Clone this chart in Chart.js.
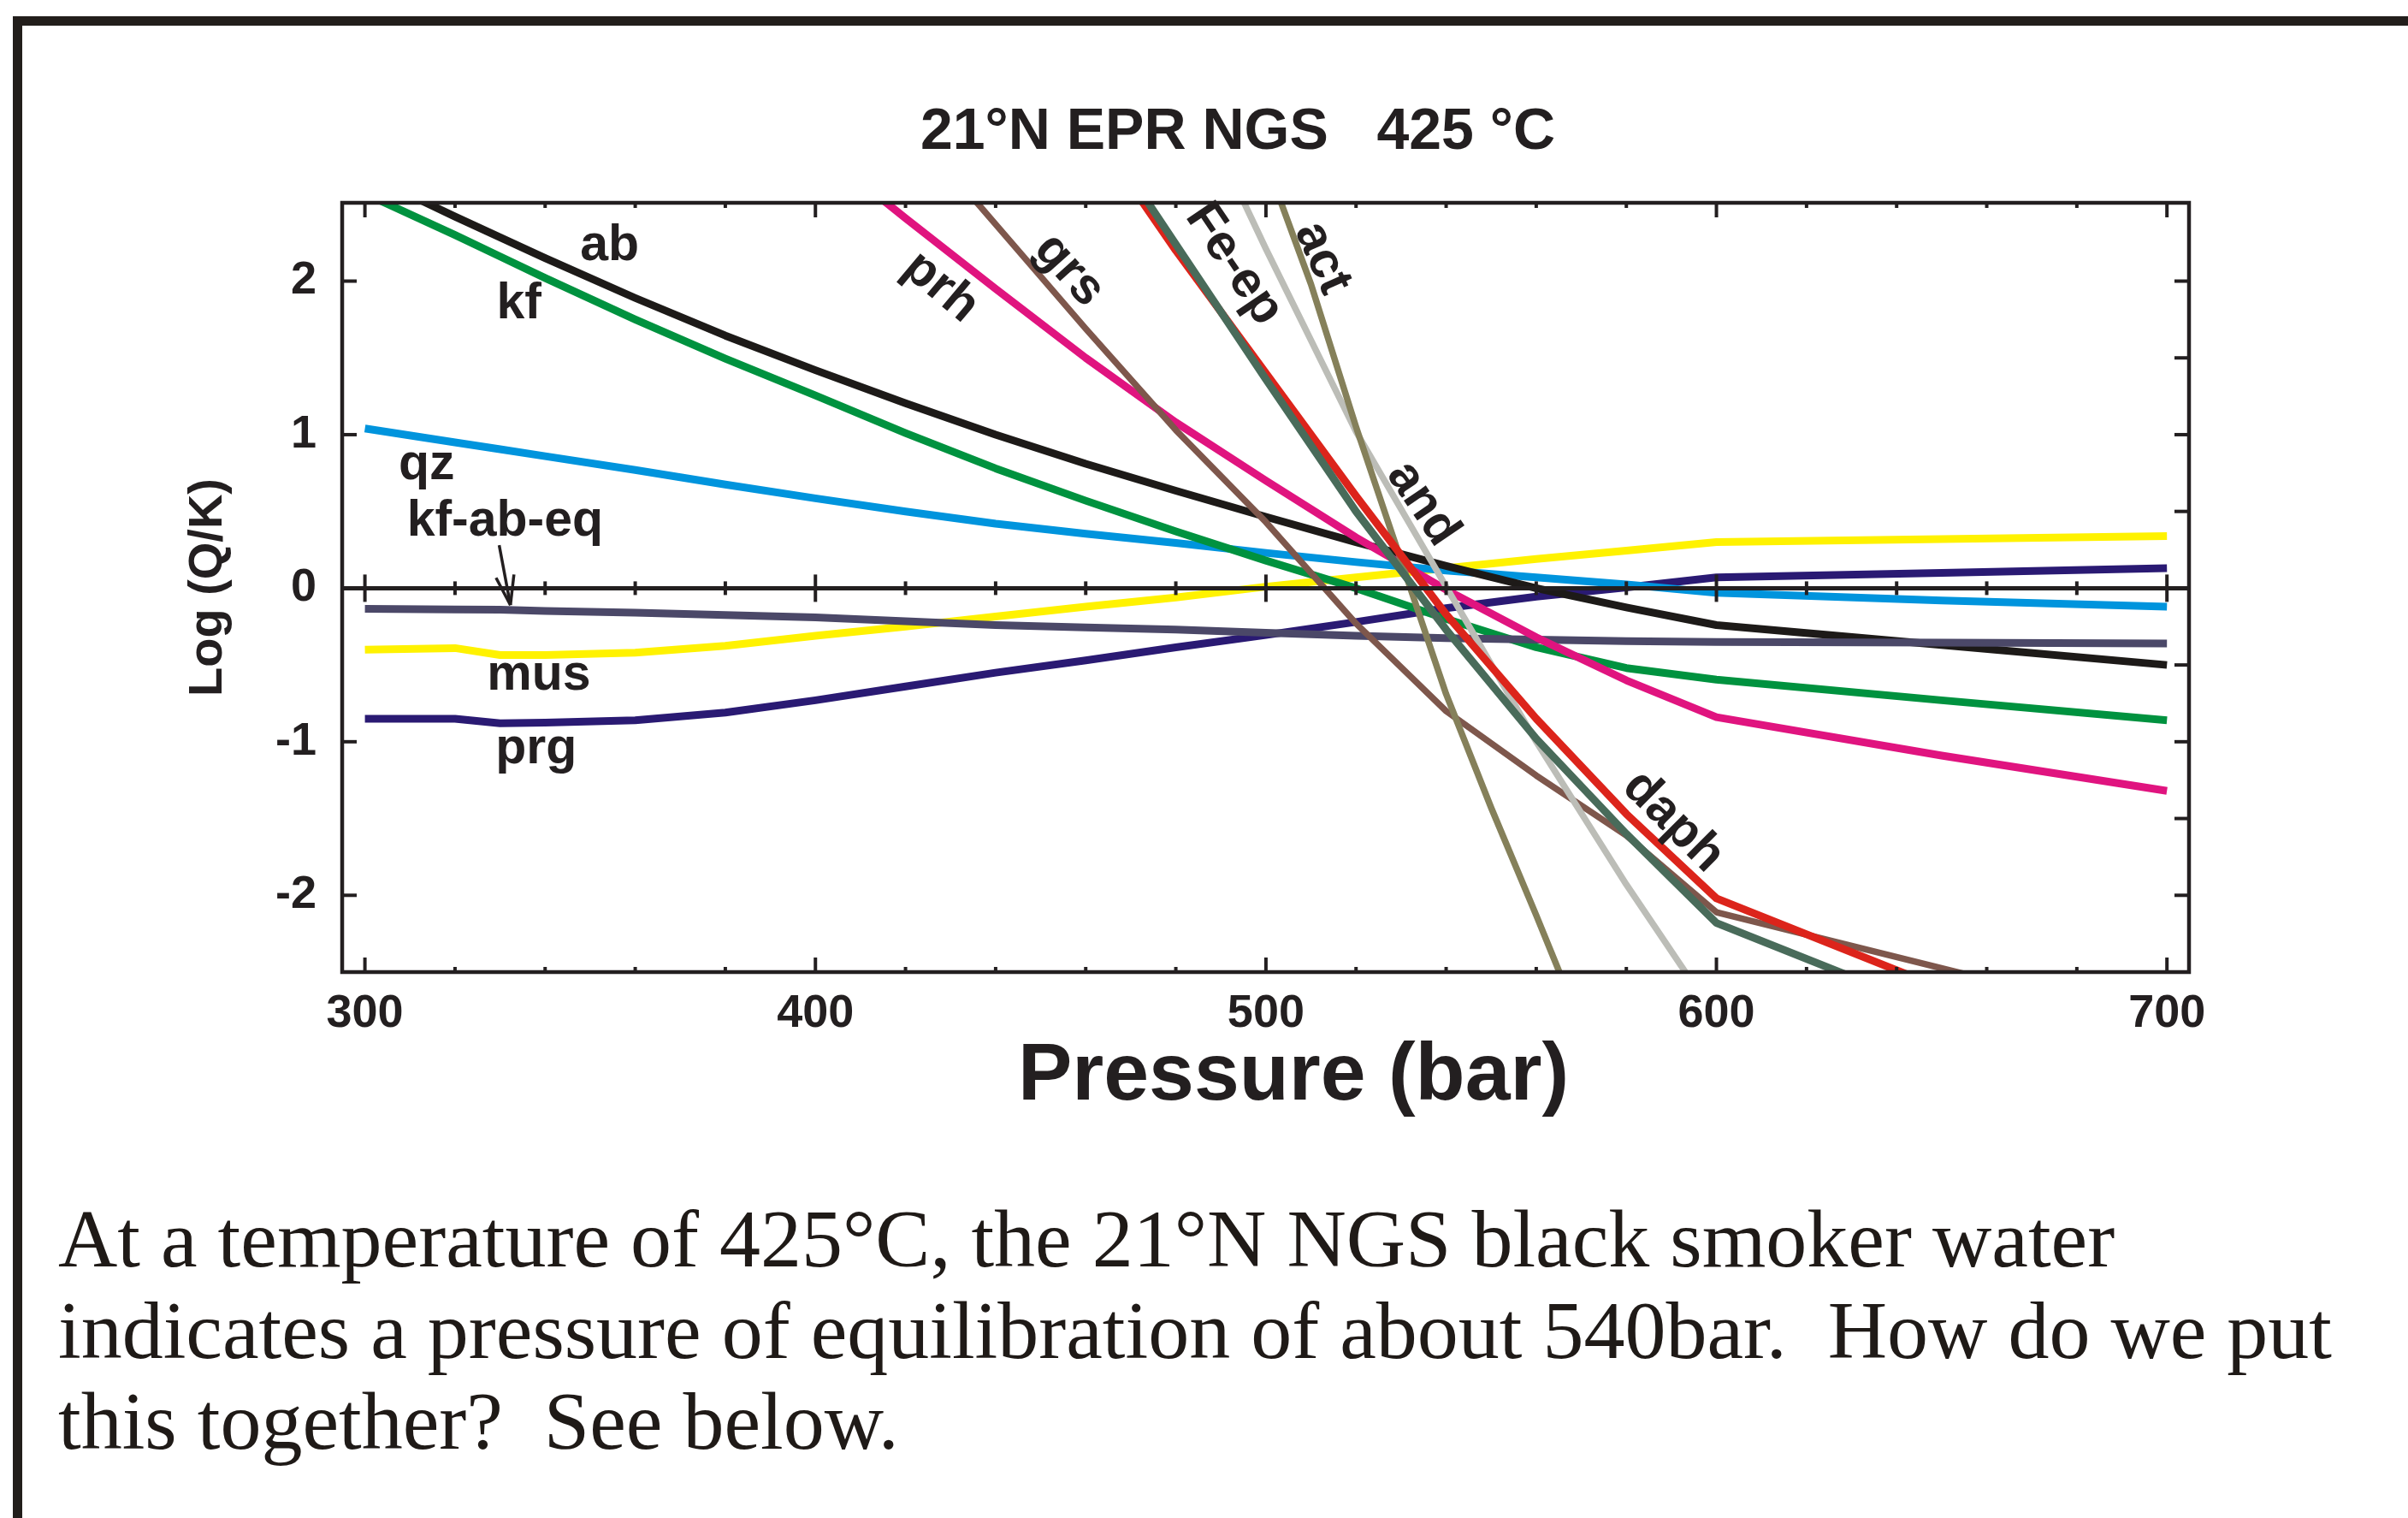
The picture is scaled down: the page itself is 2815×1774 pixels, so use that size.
<!DOCTYPE html>
<html>
<head>
<meta charset="utf-8">
<title>21°N EPR NGS 425 °C</title>
<script src="https://cdn.jsdelivr.net/npm/chart.js@4.4.1/dist/chart.umd.min.js"></script>
<style>
    html, body { margin: 0; padding: 0; background: #fff; }
    body { width: 2815px; height: 1774px; position: relative; overflow: hidden; }
    .rule-top { position: absolute; left: 15px; top: 19px; width: 2800px; height: 11px; background: #221e1b; }
    .rule-left { position: absolute; left: 15px; top: 19px; width: 11px; height: 1755px; background: #221e1b; }
    #chart { position: absolute; left: 0; top: 0; }
    .note {
        position: absolute; left: 68px; top: 1395px;
        font-family: "Liberation Serif", "Times New Roman", serif;
        font-size: 96px; line-height: 106.5px; color: #1f1a17;
        white-space: pre;
    }
</style>
</head>
<body>
<div class="rule-top"></div>
<div class="rule-left"></div>
<canvas id="chart" width="2815" height="1774"></canvas>
<div class="note">At a temperature of 425°C, the 21°N NGS black smoker water
indicates a pressure of equilibration of about 540bar.  How do we put
this together?  See below.</div>
<script>
// Pressure grid (bar) for the slowly varying saturation curves
const pressure = [300, 320, 330, 340, 360, 380, 400, 420, 440, 460, 480, 500, 520, 540, 560, 580, 600, 650, 700];

// log(Q/K) on that grid
const ab     = [2.70, 2.42, 2.285, 2.15, 1.89, 1.645, 1.42, 1.205, 1.00, 0.81, 0.635, 0.465, 0.30, 0.145, 0.0, -0.125, -0.24, -0.37, -0.50];
const kf     = [2.57, 2.30, 2.16, 2.02, 1.75, 1.495, 1.255, 1.01, 0.78, 0.57, 0.37, 0.18, 0.0, -0.20, -0.385, -0.52, -0.595, -0.73, -0.86];
const qz     = [1.04, 0.95, 0.905, 0.86, 0.77, 0.675, 0.585, 0.50, 0.42, 0.355, 0.295, 0.23, 0.17, 0.115, 0.07, 0.025, -0.03, -0.08, -0.12];
const kfAbEq = [-0.135, -0.138, -0.14, -0.148, -0.16, -0.175, -0.19, -0.215, -0.24, -0.255, -0.27, -0.29, -0.31, -0.325, -0.335, -0.345, -0.35, -0.355, -0.36];
const mus    = [-0.40, -0.39, -0.435, -0.435, -0.42, -0.375, -0.31, -0.25, -0.185, -0.12, -0.06, 0.01, 0.07, 0.13, 0.19, 0.245, 0.30, 0.32, 0.34];
const prg    = [-0.85, -0.85, -0.88, -0.875, -0.86, -0.81, -0.73, -0.64, -0.55, -0.47, -0.385, -0.305, -0.22, -0.13, -0.055, 0.005, 0.07, 0.10, 0.13];

// Steep curves, each on its own pressure grid
const prhP = [400, 420, 440, 460, 480, 500, 520, 540, 560, 580, 600, 650, 700];
const prh  = [2.88, 2.41, 1.95, 1.50, 1.08, 0.70, 0.33, -0.01, -0.32, -0.60, -0.84, -1.09, -1.32];

const grsP = [420, 440, 460, 480, 500, 520, 540, 560, 580, 600, 700];
const grs  = [3.05, 2.37, 1.69, 1.03, 0.43, -0.23, -0.80, -1.22, -1.61, -2.11, -2.84];

const epP  = [460, 480, 500, 520, 540, 560, 580, 600, 700];
const feEp = [3.12, 2.24, 1.36, 0.50, -0.27, -0.98, -1.60, -2.18, -3.35];
const daph = [3.05, 2.20, 1.40, 0.60, -0.17, -0.85, -1.47, -2.02, -3.19];

const andP = [480, 500, 520, 540, 560, 580, 600];
const andr = [3.45, 2.21, 1.02, 0.01, -1.00, -1.93, -2.80];   // andradite

const actP = [500, 510, 520, 530, 540, 550, 560, 570];
const act  = [2.78, 1.98, 1.05, 0.18, -0.69, -1.43, -2.13, -2.85];

const xTicks = [300, 400, 500, 600, 700];
const yTicks = [-2, -1, 0, 1, 2];

const ink = '#231f20';
const sans = '"Liberation Sans", Arial, Helvetica, sans-serif';

// first entry is painted last (on top)
const series = [
    { label: 'Fe-ep',    p: epP,      v: feEp,   color: '#496b5a', w: 9 },
    { label: 'daph',     p: epP,      v: daph,   color: '#dc241b', w: 9 },
    { label: 'act',      p: actP,     v: act,    color: '#85805a', w: 7.5 },
    { label: 'and',      p: andP,     v: andr,   color: '#bcbdb7', w: 7.5 },
    { label: 'grs',      p: grsP,     v: grs,    color: '#7e574c', w: 7.5 },
    { label: 'prh',      p: prhP,     v: prh,    color: '#e0147f', w: 9 },
    { label: 'kf-ab-eq', p: pressure, v: kfAbEq, color: '#4b4868', w: 9 },
    { label: 'ab',       p: pressure, v: ab,     color: '#1d1a18', w: 9 },
    { label: 'kf',       p: pressure, v: kf,     color: '#00923f', w: 9 },
    { label: 'qz',       p: pressure, v: qz,     color: '#0094dd', w: 9 },
    { label: 'prg',      p: pressure, v: prg,    color: '#2a1a73', w: 9 },
    { label: 'mus',      p: pressure, v: mus,    color: '#fff200', w: 9 }
];

// where each curve name sits (pressure, log Q/K) and its slant in degrees
const curveLabels = [
    { text: 'ab',       p: 354.3, v: 2.23,  angle: 0 },
    { text: 'kf',       p: 334.2, v: 1.85,  angle: 0 },
    { text: 'qz',       p: 313.7, v: 0.80,  angle: 0 },
    { text: 'kf-ab-eq', p: 331.1, v: 0.435, angle: 0 },
    { text: 'mus',      p: 338.6, v: -0.57, angle: 0 },
    { text: 'prg',      p: 338.0, v: -1.05, angle: 0 },
    { text: 'prh',      p: 427.8, v: 1.96,  angle: 40 },
    { text: 'grs',      p: 456.3, v: 2.07,  angle: 48 },
    { text: 'Fe-ep',    p: 492.9, v: 2.11,  angle: 56 },
    { text: 'act',      p: 512.5, v: 2.15,  angle: 66 },
    { text: 'and',      p: 534.8, v: 0.55,  angle: 56 },
    { text: 'daph',     p: 590.4, v: -1.52, angle: 45 }
];

function line(ctx, x1, y1, x2, y2) {
    ctx.beginPath();
    ctx.moveTo(x1, y1);
    ctx.lineTo(x2, y2);
    ctx.stroke();
}

// box, zero line and inward ticks
const framePlugin = {
    id: 'frame',
    afterDatasetsDraw(chart) {
        const { ctx, chartArea: a, scales: { x, y } } = chart;
        ctx.save();
        ctx.strokeStyle = ink;
        ctx.lineWidth = 4.5;
        ctx.strokeRect(a.left, a.top, a.width, a.height);

        const y0 = y.getPixelForValue(0);
        ctx.lineWidth = 5;
        line(ctx, a.left, y0, a.right, y0);

        ctx.lineWidth = 4;
        for (let p = 300; p <= 700; p += 20) {
            const px = x.getPixelForValue(p);
            const major = p % 100 === 0;
            const len = major ? 17 : 6;
            line(ctx, px, a.bottom, px, a.bottom - len);
            line(ctx, px, a.top, px, a.top + len);
            const c = major ? 16 : 8;
            line(ctx, px, y0 - c, px, y0 + c);
        }
        yTicks.forEach(v => {
            if (v !== 0) {
                const py = y.getPixelForValue(v);
                line(ctx, a.left, py, a.left + 17, py);
            }
        });
        for (let v = -2; v <= 2; v += 0.5) {
            if (v !== 0) {
                const py = y.getPixelForValue(v);
                line(ctx, a.right, py, a.right - 17, py);
            }
        }
        ctx.restore();
    }
};

// curve names, the kf-ab-eq pointer, and the titles
const textPlugin = {
    id: 'annotations',
    afterDraw(chart) {
        const { ctx, scales: { x, y } } = chart;
        ctx.save();
        ctx.fillStyle = ink;
        ctx.font = 'bold 59px ' + sans;
        ctx.textAlign = 'center';
        ctx.textBaseline = 'middle';
        curveLabels.forEach(l => {
            ctx.save();
            ctx.translate(x.getPixelForValue(l.p), y.getPixelForValue(l.v));
            ctx.rotate(l.angle * Math.PI / 180);
            ctx.fillText(l.text, 0, 0);
            ctx.restore();
        });

        // arrow from the kf-ab-eq label down to its curve
        const tx = x.getPixelForValue(329.8), ty = y.getPixelForValue(0.28);
        const hx = x.getPixelForValue(332.3), hy = y.getPixelForValue(-0.11);
        ctx.strokeStyle = ink;
        ctx.lineWidth = 3.5;
        line(ctx, tx, ty, hx, hy);
        const ang = Math.atan2(hy - ty, hx - tx);
        const headLen = 36, spread = 0.3;
        line(ctx, hx, hy, hx - headLen * Math.cos(ang - spread), hy - headLen * Math.sin(ang - spread));
        line(ctx, hx, hy, hx - headLen * Math.cos(ang + spread), hy - headLen * Math.sin(ang + spread));

        ctx.textBaseline = 'alphabetic';
        ctx.font = 'bold 68px ' + sans;
        ctx.fillText('21°N EPR NGS   425 °C', 1447, 174);
        ctx.font = 'bold 95px ' + sans;
        ctx.fillText('Pressure (bar)', 1512, 1285);
        ctx.restore();
    }
};

const datasets = series.map(s => ({
    label: s.label,
    data: s.p.map((p, i) => ({ x: p, y: s.v[i] })),
    borderColor: s.color,
    borderWidth: s.w,
    pointRadius: 0,
    fill: false,
    tension: 0,
    borderJoinStyle: 'round'
}));

new Chart(document.getElementById('chart'), {
    type: 'line',
    data: { datasets },
    options: {
        responsive: false,
        animation: false,
        devicePixelRatio: 1,
        layout: { padding: { left: 200, right: 256, top: 237, bottom: 476 } },
        plugins: {
            legend: { display: false },
            tooltip: { enabled: false },
            title: { display: false }
        },
        scales: {
            x: {
                type: 'linear',
                min: 294.95,
                max: 704.9,
                grid: { display: false, drawTicks: false },
                border: { display: false },
                afterBuildTicks: s => { s.ticks = xTicks.map(v => ({ value: v })); },
                afterFit: s => { s.height = 162; s.paddingLeft = 0; s.paddingRight = 0; },
                ticks: {
                    color: ink,
                    padding: 22,
                    maxRotation: 0,
                    autoSkip: false,
                    font: { family: sans, size: 54, weight: 'bold', lineHeight: 1 }
                }
            },
            y: {
                type: 'linear',
                min: -2.5,
                max: 2.51,
                grid: { display: false, drawTicks: false },
                border: { display: false },
                afterBuildTicks: s => { s.ticks = yTicks.map(v => ({ value: v })); },
                afterFit: s => { s.width = 200; s.paddingTop = 0; s.paddingBottom = 0; },
                ticks: {
                    color: ink,
                    padding: 30,
                    font: { family: sans, size: 54, weight: 'bold', lineHeight: 1 }
                },
                title: {
                    display: true,
                    text: 'Log (Q/K)',
                    color: ink,
                    padding: { top: 16, bottom: 0 },
                    font: { family: sans, size: 56, weight: 'bold', lineHeight: 1 }
                }
            }
        }
    },
    plugins: [framePlugin, textPlugin]
});
</script>
</body>
</html>
